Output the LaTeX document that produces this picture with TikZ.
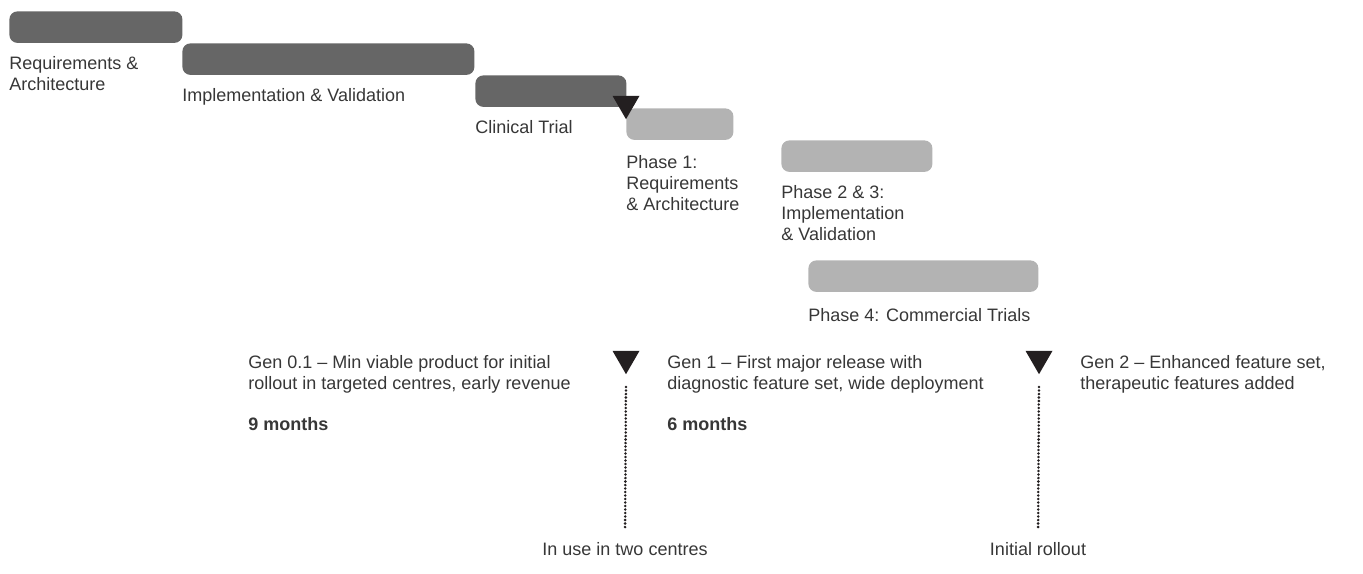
\documentclass[tikz,border=0pt]{standalone}
\usepackage{fontspec}
\setmainfont{Liberation Sans}
\usetikzlibrary{positioning}
\usetikzlibrary{shapes.geometric}
\definecolor{bardark}{RGB}{102, 102, 102}
\definecolor{barlight}{RGB}{179, 179, 179}
\definecolor{inkgrey}{RGB}{55, 55, 55}
\definecolor{markink}{RGB}{35, 31, 32}

\begin{document}
\begin{tikzpicture}[x=0.5pt, y=-0.5pt,
    oldbar/.style={fill=bardark, rounded corners=4pt, inner sep=0pt, anchor=north west, minimum height=15.75pt},
    newbar/.style={fill=barlight, rounded corners=4pt, inner sep=0pt, anchor=north west, minimum height=15.75pt},
    caption/.style={text=inkgrey, align=left, inner sep=0pt, anchor=north west, font=\fontsize{9}{10.5}\selectfont},
    marker/.style={regular polygon, regular polygon sides=3, shape border rotate=180, fill=markink,
                   inner sep=0pt, minimum size=15.6pt, anchor=corner 1},
    dotline/.style={draw=markink, line width=1.4pt, line cap=round, dash pattern=on 0pt off 1.75pt, shorten <=6pt, shorten >=7.5pt}]
    \useasboundingbox (0,0) rectangle (1363,573);

    % first track
    \node[oldbar, minimum width=86.5pt] (reqbar)  at (9,11)   {};
    \node[oldbar, minimum width=146pt]  (implbar) at (182,43) {};
    \node[oldbar, minimum width=75.5pt] (clinbar) at (475,75) {};
    \node[caption, below right=6.5pt and 0pt of reqbar.south west]  (reqtxt)  {Requirements \&\\Architecture};
    \node[caption, below right=6.5pt and 0pt of implbar.south west] (impltxt) {Implementation \& Validation};
    \node[caption, below right=6.5pt and 0pt of clinbar.south west] (clintxt) {Clinical Trial};

    % second track
    \node[newbar, minimum width=53.5pt]  (ph1bar) at (626,108) {};
    \node[newbar, minimum width=75.5pt]  (ph2bar) at (781,140) {};
    \node[newbar, minimum width=115pt]   (ph4bar) at (808,260) {};
    \node[caption, below right=7.5pt and 0pt of ph1bar.south west] (ph1txt) {Phase 1:\\Requirements\\\& Architecture};
    \node[caption, below right=6.5pt and 0pt of ph2bar.south west] (ph2txt) {Phase 2 \& 3:\\Implementation\\\& Validation};
    \node[caption, below right=8pt and 0pt of ph4bar.south west]   (ph4txt) {Phase 4: Commercial Trials};

    \node[marker] (startmark) at (626,120) {};

    % releases
    \node[caption] (gen0) at (248,355)  {Gen 0.1 -- Min viable product for initial\\rollout in targeted centres, early revenue};
    \node[caption, font=\fontsize{9}{10.5}\selectfont\bfseries] (dur9) at (248,417) {9 months};
    \node[caption] (gen1) at (667,355)  {Gen 1 -- First major release with\\diagnostic feature set, wide deployment};
    \node[caption, font=\fontsize{9}{10.5}\selectfont\bfseries] (dur6) at (667,417) {6 months};
    \node[caption] (gen2) at (1080,355) {Gen 2 -- Enhanced feature set,\\therapeutic features added};

    \node[marker] (mark1) at (626,375)  {};
    \node[marker] (mark2) at (1039,375) {};
    \node[caption, anchor=north] (twocentres) at (625,542)  {In use in two centres};
    \node[caption, anchor=north] (rollout)    at (1038,542) {Initial rollout};

    \draw[dotline] (mark1.corner 1) -- (twocentres.north);
    \draw[dotline] (mark2.corner 1) -- (rollout.north);
\end{tikzpicture}
\end{document}
